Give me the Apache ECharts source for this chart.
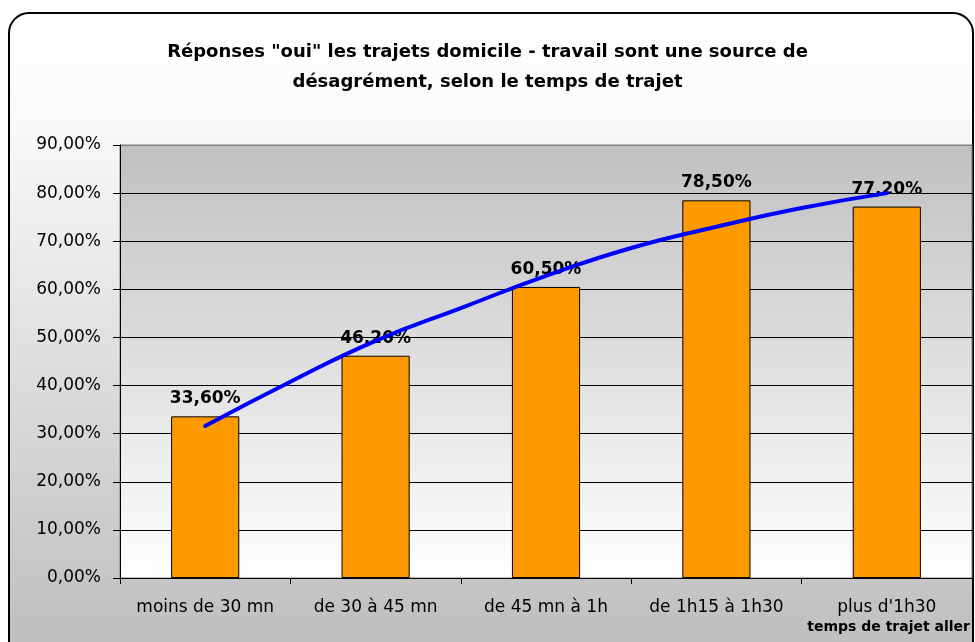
<!DOCTYPE html>
<html>
<head>
<meta charset="utf-8">
<script src="https://cdn.jsdelivr.net/npm/echarts@6/dist/echarts.min.js"></script>
<style>
  html, body { margin: 0; padding: 0; background: #fff; }
  #chart { width: 975px; height: 642px; }
</style>
</head>
<body>
<div id="chart"></div>
<script>
// catégories (temps de trajet aller)
var categories = ['moins de 30 mn', 'de 30 à 45 mn', 'de 45 mn à 1h', 'de 1h15 à 1h30', "plus d'1h30"];
// réponses "oui" en %
var ouiValues = [33.6, 46.2, 60.5, 78.5, 77.2];
// courbe de tendance (position de catégorie, %)
var trendPos = [0, 0.5, 1, 1.5, 2, 2.5, 3, 3.5, 4];
var trendVal = [31.6, 40.8, 49.3, 56.1, 62.8, 68.6, 73.0, 76.9, 80.0];

var FONT = 'DejaVu Sans';

function pct(v) {
    return v.toFixed(2).replace('.', ',') + '%';
}

var trendData = [];
for (var i = 0; i < trendPos.length; i++) {
    trendData.push([trendPos[i], trendVal[i]]);
}

var myChart = echarts.init(document.getElementById('chart'));
var option = {
    animation: false,
    title: {
        text: 'Réponses "oui" les trajets domicile - travail sont une source de\ndésagrément, selon le temps de trajet',
        left: 'center',
        top: 32,
        textStyle: {
            fontFamily: FONT,
            fontSize: 18,
            fontWeight: 'bold',
            color: '#000',
            lineHeight: 30
        }
    },
    graphic: [{
        type: 'rect',
        z: -10,
        shape: {x: 9, y: 13, width: 964, height: 700, r: 20},
        style: {
            fill: {
                type: 'linear', x: 0, y: 0, x2: 0, y2: 1,
                colorStops: [
                    {offset: 0, color: '#ffffff'},
                    {offset: 0.15, color: '#fafafa'},
                    {offset: 0.88, color: '#c0c0c0'},
                    {offset: 1, color: '#c0c0c0'}
                ]
            },
            stroke: '#000',
            lineWidth: 2
        }
    }],
    grid: {
        left: 120,
        right: 3,
        top: 145,
        bottom: 64,
        show: true,
        borderColor: '#808080',
        borderWidth: 1,
        backgroundColor: {
            type: 'linear', x: 0, y: 0, x2: 0, y2: 1,
            colorStops: [
                {offset: 0, color: '#c0c0c0'},
                {offset: 1, color: '#ffffff'}
            ]
        }
    },
    xAxis: [{
        type: 'category',
        data: categories,
        name: 'temps de trajet aller',
        nameLocation: 'end',
        nameGap: -2,
        nameTextStyle: {
            fontFamily: FONT,
            fontSize: 14,
            fontWeight: 'bold',
            color: '#000',
            align: 'right',
            verticalAlign: 'top',
            padding: [42, 0, 0, 0]
        },
        axisLine: {lineStyle: {color: '#000', width: 1}},
        axisTick: {show: true, interval: 0, length: 6, lineStyle: {color: '#000'}},
        axisLabel: {
            interval: 0,
            fontFamily: FONT,
            fontSize: 17,
            color: '#000',
            margin: 21
        }
    }, {
        type: 'value',
        min: -0.5,
        max: 4.5,
        show: false
    }],
    yAxis: {
        type: 'value',
        min: 0,
        max: 90,
        interval: 10,
        axisLine: {show: true, onZero: false, lineStyle: {color: '#000', width: 1}},
        axisTick: {show: true, length: 7, lineStyle: {color: '#000'}},
        axisLabel: {
            fontFamily: FONT,
            fontSize: 17,
            color: '#000',
            margin: 19,
            formatter: function (v) { return pct(v); }
        },
        splitLine: {
            show: true,
            lineStyle: {
                color: ['#000', '#000', '#000', '#000', '#000', '#000', '#000', '#000', '#000', '#808080'],
                width: 1
            }
        }
    },
    series: [{
        type: 'bar',
        data: ouiValues,
        barWidth: '40%',
        itemStyle: {
            color: '#ff9900',
            borderColor: '#000',
            borderWidth: 1
        },
        label: {
            show: true,
            position: 'top',
            distance: 9,
            fontFamily: FONT,
            fontSize: 17,
            fontWeight: 'bold',
            color: '#000',
            formatter: function (p) { return pct(p.value); }
        },
        z: 2
    }, {
        type: 'line',
        xAxisIndex: 1,
        yAxisIndex: 0,
        data: trendData,
        smooth: true,
        symbol: 'none',
        lineStyle: {color: '#0000ff', width: 4, cap: 'round'},
        z: 3
    }]
};
myChart.setOption(option);
</script>
</body>
</html>
